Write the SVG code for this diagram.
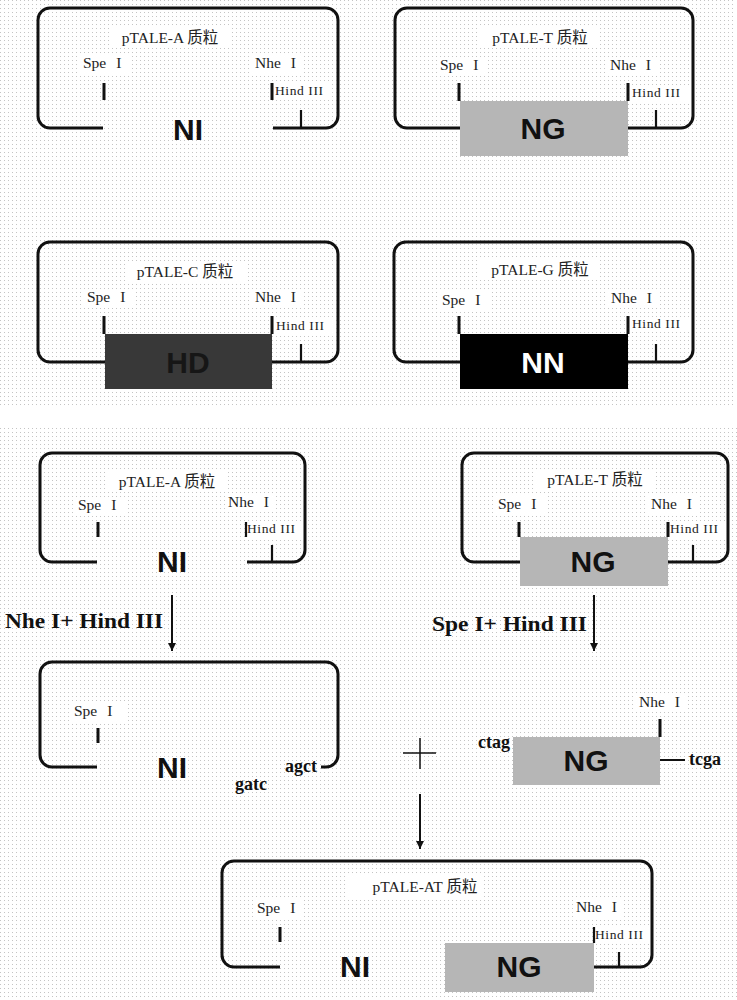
<svg xmlns="http://www.w3.org/2000/svg" width="737" height="1000" viewBox="0 0 737 1000">
<defs>
<pattern id="dots" width="4" height="4" patternUnits="userSpaceOnUse">
<rect x="0" y="0" width="1" height="1" fill="#c4c4c4"/>
</pattern>
<marker id="arr" markerWidth="10" markerHeight="10" refX="8" refY="5" orient="auto" markerUnits="userSpaceOnUse">
<path d="M0,1 L8,5 L0,9 Z" fill="#111"/>
</marker>
<style>
.ol{fill:none;stroke:#111;stroke-width:3;stroke-linejoin:round}
.tk{stroke:#111;stroke-width:3}
.tk2{stroke:#111;stroke-width:2.2}
.bg{fill:#fff}
.t{font-family:"Liberation Serif","Noto Sans CJK SC",serif;font-size:15.5px;fill:#222;text-anchor:middle}
.s{font-family:"Liberation Serif",serif;font-size:15.5px;fill:#222;word-spacing:6px}
.h{font-family:"Liberation Serif",serif;font-size:13.5px;fill:#222;letter-spacing:0.6px}
.big{font-family:"Liberation Sans",Arial,sans-serif;font-weight:bold;font-size:30px;fill:#111;text-anchor:middle}
.b{font-family:"Liberation Serif",serif;font-weight:bold;font-size:18px;fill:#111}
.op{font-family:"Liberation Serif",serif;font-weight:bold;font-size:21px;fill:#111}
.ng{fill:#b6b6b6}
.ln{stroke:#111;stroke-width:2;fill:none}
</style>
</defs>
<rect width="737" height="1000" fill="#fff"/>
<rect x="0" y="0" width="735" height="407" fill="url(#dots)"/>
<rect x="0" y="425" width="737" height="575" fill="url(#dots)"/>

<g id="pTALE-A">
<rect class="bg" x="110" y="27" width="120" height="21"/>
<rect class="bg" x="80" y="55" width="50" height="18"/>
<rect class="bg" x="252" y="55" width="50" height="18"/>
<rect class="bg" x="274" y="84" width="58" height="15"/>
<path class="ol" d="M103,128 H50 A12,12 0 0 1 38,116 V20 A12,12 0 0 1 50,8 H326 A12,12 0 0 1 338,20 V116 A12,12 0 0 1 326,128 H273"/>
<line class="tk" x1="104" y1="83" x2="104" y2="100"/>
<line class="tk" x1="272" y1="83" x2="272" y2="100"/>
<line class="tk2" x1="301" y1="110" x2="301" y2="128"/>
<text class="t" x="170" y="43">pTALE-A 质粒</text>
<text class="s" x="83" y="68">Spe I</text>
<text class="s" x="255" y="68">Nhe I</text>
<text class="h" x="275" y="95">Hind III</text>
<text class="big" x="188" y="140">NI</text>
</g>

<g id="pTALE-T">
<rect class="bg" x="480" y="27" width="120" height="21"/>
<rect class="bg" x="437" y="57" width="50" height="18"/>
<rect class="bg" x="607" y="57" width="50" height="18"/>
<rect class="bg" x="631" y="86" width="58" height="15"/>
<path class="ol" d="M460,128 H407 A12,12 0 0 1 395,116 V20 A12,12 0 0 1 407,8 H681 A12,12 0 0 1 693,20 V116 A12,12 0 0 1 681,128 H628"/>
<rect class="ng" x="460" y="101" width="168" height="55"/>
<line class="tk" x1="459" y1="83" x2="459" y2="101"/>
<line class="tk" x1="628" y1="83" x2="628" y2="101"/>
<line class="tk2" x1="656" y1="110" x2="656" y2="128"/>
<text class="t" x="540" y="43">pTALE-T 质粒</text>
<text class="s" x="440" y="70">Spe I</text>
<text class="s" x="610" y="70">Nhe I</text>
<text class="h" x="632" y="97">Hind III</text>
<text class="big" x="543" y="139">NG</text>
</g>

<g id="pTALE-C">
<rect class="bg" x="125" y="261" width="120" height="21"/>
<rect class="bg" x="84" y="289" width="50" height="18"/>
<rect class="bg" x="252" y="289" width="50" height="18"/>
<rect class="bg" x="275" y="319" width="58" height="15"/>
<path class="ol" d="M105,362 H50 A12,12 0 0 1 38,350 V254 A12,12 0 0 1 50,242 H326 A12,12 0 0 1 338,254 V350 A12,12 0 0 1 326,362 H272"/>
<rect x="105" y="334" width="167" height="55" fill="#383838"/>
<line class="tk" x1="104" y1="316" x2="104" y2="334"/>
<line class="tk" x1="272" y1="316" x2="272" y2="334"/>
<line class="tk2" x1="301" y1="344" x2="301" y2="362"/>
<text class="t" x="185" y="277">pTALE-C 质粒</text>
<text class="s" x="87" y="302">Spe I</text>
<text class="s" x="255" y="302">Nhe I</text>
<text class="h" x="276" y="330">Hind III</text>
<text class="big" x="188" y="373" style="fill:#161616">HD</text>
</g>

<g id="pTALE-G">
<rect class="bg" x="480" y="259" width="120" height="21"/>
<rect class="bg" x="439" y="292" width="50" height="18"/>
<rect class="bg" x="608" y="290" width="50" height="18"/>
<rect class="bg" x="631" y="317" width="58" height="15"/>
<path class="ol" d="M460,362 H406 A12,12 0 0 1 394,350 V254 A12,12 0 0 1 406,242 H681 A12,12 0 0 1 693,254 V350 A12,12 0 0 1 681,362 H628"/>
<rect x="460" y="334" width="168" height="55" fill="#000"/>
<line class="tk" x1="459" y1="316" x2="459" y2="334"/>
<line class="tk" x1="628" y1="316" x2="628" y2="334"/>
<line class="tk2" x1="656" y1="344" x2="656" y2="362"/>
<text class="t" x="540" y="275">pTALE-G 质粒</text>
<text class="s" x="442" y="305">Spe I</text>
<text class="s" x="611" y="303">Nhe I</text>
<text class="h" x="632" y="328">Hind III</text>
<text class="big" x="543" y="373" style="fill:#fff">NN</text>
</g>

<g id="pTALE-A2">
<rect class="bg" x="107" y="471" width="120" height="21"/>
<rect class="bg" x="75" y="497" width="50" height="18"/>
<rect class="bg" x="225" y="494" width="50" height="18"/>
<rect class="bg" x="246" y="522" width="58" height="15"/>
<path class="ol" d="M97,562 H52 A12,12 0 0 1 40,550 V465 A12,12 0 0 1 52,453 H293 A12,12 0 0 1 305,465 V550 A12,12 0 0 1 293,562 H247"/>
<line class="tk" x1="98" y1="522" x2="98" y2="537"/>
<line class="tk2" x1="246" y1="522" x2="246" y2="537"/>
<line class="tk2" x1="272" y1="545" x2="272" y2="562"/>
<text class="t" x="167" y="487">pTALE-A 质粒</text>
<text class="s" x="78" y="510">Spe I</text>
<text class="s" x="228" y="507">Nhe I</text>
<text class="h" x="247" y="533">Hind III</text>
<text class="big" x="172" y="572">NI</text>
</g>

<g id="pTALE-T2">
<rect class="bg" x="535" y="469" width="120" height="21"/>
<rect class="bg" x="495" y="496" width="50" height="18"/>
<rect class="bg" x="648" y="496" width="50" height="18"/>
<rect class="bg" x="669" y="522" width="58" height="15"/>
<path class="ol" d="M520,562 H474 A12,12 0 0 1 462,550 V465 A12,12 0 0 1 474,453 H716 A12,12 0 0 1 728,465 V550 A12,12 0 0 1 716,562 H668"/>
<rect class="ng" x="520" y="537" width="148" height="49"/>
<line class="tk" x1="519" y1="522" x2="519" y2="537"/>
<line class="tk" x1="668" y1="522" x2="668" y2="537"/>
<line class="tk2" x1="693" y1="545" x2="693" y2="562"/>
<text class="t" x="595" y="485">pTALE-T 质粒</text>
<text class="s" x="498" y="509">Spe I</text>
<text class="s" x="651" y="509">Nhe I</text>
<text class="h" x="670" y="533">Hind III</text>
<text class="big" x="593" y="572">NG</text>
</g>

<g id="digested-A">
<rect class="bg" x="70" y="702" width="56" height="19"/>
<path class="ol" d="M97,767 H52 A12,12 0 0 1 40,755 V674 A12,12 0 0 1 52,662 H326 A12,12 0 0 1 338,674 V755 A12,12 0 0 1 326,767 H321"/>
<line class="tk" x1="98" y1="728" x2="98" y2="743"/>
<text class="s" x="74" y="716">Spe I</text>
<text class="big" x="172" y="778">NI</text>
<text class="b" x="285" y="772">agct</text>
<text class="b" x="235" y="790">gatc</text>
</g>

<g id="fragment-NG">
<rect class="bg" x="636" y="694" width="50" height="18"/>
<rect class="ng" x="513" y="737" width="147" height="48"/>
<line class="tk" x1="660" y1="719" x2="660" y2="737"/>
<line class="ln" x1="660" y1="760" x2="685" y2="760"/>
<text class="s" x="639" y="707">Nhe I</text>
<text class="big" x="586" y="771">NG</text>
<text class="b" x="478" y="748">ctag</text>
<text class="b" x="689" y="765">tcga</text>
</g>

<g id="pTALE-AT">
<rect class="bg" x="345" y="875" width="138" height="22"/>
<rect class="bg" x="254" y="900" width="50" height="18"/>
<rect class="bg" x="573" y="899" width="50" height="18"/>
<rect class="bg" x="594" y="928" width="58" height="15"/>
<path class="ol" d="M280,967 H234 A12,12 0 0 1 222,955 V873 A12,12 0 0 1 234,861 H640 A12,12 0 0 1 652,873 V955 A12,12 0 0 1 640,967 H594"/>
<rect class="ng" x="445" y="943" width="149" height="49"/>
<line class="tk" x1="280" y1="927" x2="280" y2="942"/>
<line class="tk2" x1="594" y1="927" x2="594" y2="943"/>
<line class="tk2" x1="619" y1="952" x2="619" y2="967"/>
<text class="t" x="425" y="892">pTALE-AT 质粒</text>
<text class="s" x="257" y="913">Spe I</text>
<text class="s" x="576" y="912">Nhe I</text>
<text class="h" x="595" y="939">Hind III</text>
<text class="big" x="519" y="977">NG</text>
<text class="big" x="355" y="977">NI</text>
</g>

<g id="connectors">
<line class="ln" x1="172" y1="595" x2="172" y2="651" marker-end="url(#arr)"/>
<line class="ln" x1="594" y1="595" x2="594" y2="651" marker-end="url(#arr)"/>
<line class="ln" x1="420" y1="794" x2="420" y2="849" marker-end="url(#arr)"/>
<text class="op" x="5" y="628" textLength="158" lengthAdjust="spacingAndGlyphs">Nhe I+ Hind III</text>
<text class="op" x="432" y="631" textLength="155" lengthAdjust="spacingAndGlyphs">Spe I+ Hind III</text>
<line x1="403" y1="753" x2="436" y2="753" stroke="#111" stroke-width="1.5"/>
<line x1="420" y1="738" x2="420" y2="769" stroke="#111" stroke-width="1.5"/>
</g>
</svg>
